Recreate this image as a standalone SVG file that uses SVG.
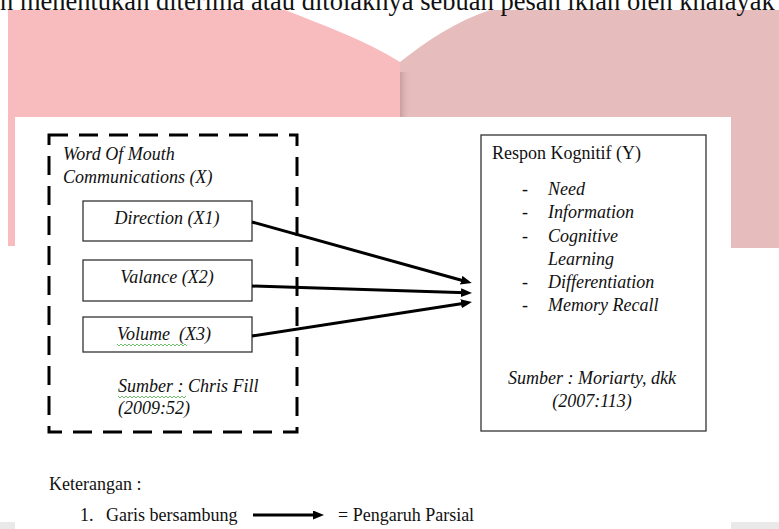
<svg xmlns="http://www.w3.org/2000/svg" width="779" height="529" viewBox="0 0 779 529">
<style>
.t{font-family:"Liberation Serif","Times New Roman",serif;font-size:18px;fill:#111}
.i{font-style:italic}
.box{fill:#fff;stroke:#333;stroke-width:1.3}
.conn{stroke:#000;stroke-width:3;fill:none}
.sq{fill:none;stroke:#5cb85c;stroke-width:0.9}
</style>
<defs>
<marker id="ah" markerUnits="userSpaceOnUse" markerWidth="12" markerHeight="10" refX="5" refY="4.5" orient="auto">
<path d="M0,0 L11,4.5 L0,9 z" fill="#000"/>
</marker>
<linearGradient id="sh" x1="0" y1="0" x2="1" y2="0">
<stop offset="0" stop-color="#c79ea1"/>
<stop offset="1" stop-color="#e7bcbd" stop-opacity="0"/>
</linearGradient>
</defs>
<rect width="779" height="529" fill="#fff"/>
<g id="background">
<path d="M8,10 L285,10 C320,24 365,40 400,62 L400,246 L8,246 Z" fill="#f8bbbe"/>
<path d="M400,62 C428,40 455,22 490,10 L779,10 L779,248 L400,248 Z" fill="#e7bcbd"/>
<rect x="400" y="72" width="11" height="46" fill="url(#sh)"/>
<rect x="0" y="522" width="779" height="7" fill="#e9e9e9"/>
<rect x="15" y="117" width="716" height="412" fill="#fff"/>
<text class="t" x="0" y="10" style="font-size:26.5px">n menentukan diterima atau ditolaknya sebuah pesan iklan oleh khalayak</text>
</g>
<g id="node-X">
<path d="M49,135 L297,135 L297,432 L49,432 Z" fill="none" stroke="#000" stroke-width="3" stroke-dasharray="19,11"/>
<text class="t i" x="63" y="160">Word Of Mouth</text>
<text class="t i" x="63" y="183">Communications (X)</text>
<text class="t i" x="118" y="392">Sumber : Chris Fill</text>
<text class="t i" x="118" y="414">(2009:52)</text>
<path class="sq" d="M118,396 l2,2 l2,-2 l2,2 l2,-2 l2,2 l2,-2 l2,2 l2,-2 l2,2 l2,-2 l2,2 l2,-2 l2,2 l2,-2 l2,2 l2,-2 l2,2 l2,-2 l2,2 l2,-2 l2,2 l2,-2 l2,2 l2,-2 l2,2 l2,-2 l2,2 l2,-2 l2,2 l2,-2 l2,2 l2,-2 l2,2 l2,-2"/>
</g>
<g id="node-X1">
<rect class="box" x="83" y="201" width="169" height="40"/>
<text class="t i" x="167" y="224" text-anchor="middle">Direction (X1)</text>
</g>
<g id="node-X2">
<rect class="box" x="83" y="260" width="169" height="41"/>
<text class="t i" x="167" y="283" text-anchor="middle">Valance (X2)</text>
</g>
<g id="node-X3">
<rect class="box" x="83" y="317" width="169" height="35"/>
<text class="t i" x="117" y="340" xml:space="preserve">Volume  (X3)</text>
<path class="sq" d="M117,344 l2,2 l2,-2 l2,2 l2,-2 l2,2 l2,-2 l2,2 l2,-2 l2,2 l2,-2 l2,2 l2,-2 l2,2 l2,-2 l2,2 l2,-2 l2,2 l2,-2 l2,2 l2,-2 l2,2 l2,-2 l2,2 l2,-2 l2,2 l2,-2 l2,2 l2,-2 l2,2 l2,-2 l2,2 l2,-2 l2,2 l2,-2 l2,2"/>
</g>
<g id="node-Y">
<rect class="box" x="481" y="135" width="225" height="296"/>
<text class="t" x="492" y="159">Respon Kognitif (Y)</text>
<text class="t" x="522" y="195">-</text>
<text class="t i" x="548" y="195">Need</text>
<text class="t" x="522" y="218">-</text>
<text class="t i" x="548" y="218">Information</text>
<text class="t" x="522" y="242">-</text>
<text class="t i" x="548" y="242">Cognitive</text>
<text class="t i" x="548" y="265">Learning</text>
<text class="t" x="522" y="288">-</text>
<text class="t i" x="548" y="288">Differentiation</text>
<text class="t" x="522" y="311">-</text>
<text class="t i" x="548" y="311">Memory Recall</text>
<text class="t i" x="592" y="384" text-anchor="middle">Sumber : Moriarty, dkk</text>
<text class="t i" x="592" y="407" text-anchor="middle">(2007:113)</text>
</g>
<g id="connectors">
<line class="conn" x1="252" y1="222" x2="466" y2="281.5" marker-end="url(#ah)"/>
<line class="conn" x1="252" y1="286" x2="466" y2="292.8" marker-end="url(#ah)"/>
<line class="conn" x1="252" y1="336" x2="466" y2="303" marker-end="url(#ah)"/>
</g>
<g id="legend">
<text class="t" x="49" y="490">Keterangan :</text>
<text class="t" x="80" y="521">1.</text>
<text class="t" x="106" y="521">Garis bersambung</text>
<line class="conn" x1="253" y1="515" x2="318" y2="515" marker-end="url(#ah)"/>
<text class="t" x="338" y="521">= Pengaruh Parsial</text>
</g>
</svg>
